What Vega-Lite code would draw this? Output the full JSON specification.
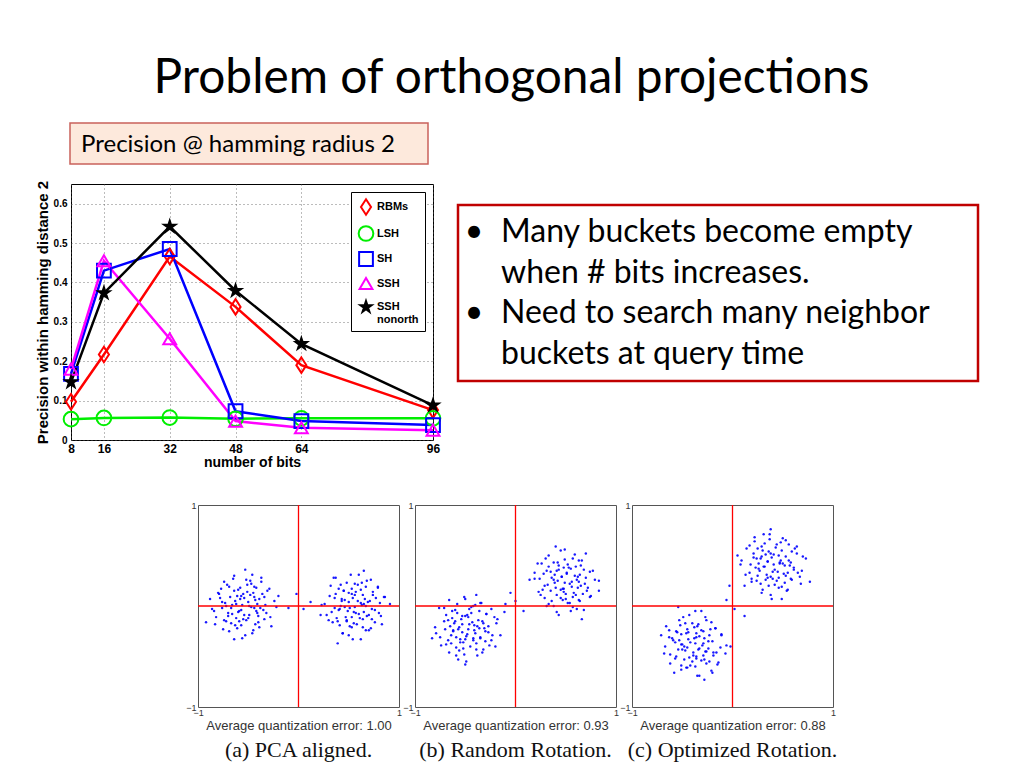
{
"$schema": "https://vega.github.io/schema/vega-lite/v6.json",
"padding": 0,
"background": "white",
"config": {
  "view": {"stroke": null},
  "font": "Liberation Sans",
  "legend": {"orient": "top-right", "offset": 8, "padding": 6, "rowPadding": 3, "strokeColor": "black", "fillColor": "white", "labelFont": "Liberation Sans", "labelFontSize": 11, "labelFontWeight": "bold", "labelColor": "black", "symbolStrokeWidth": 2, "labelOffset": 2, "cornerRadius": 0}
},
"resolve": {"scale": {"color": "independent", "stroke": "independent", "fill": "independent", "shape": "independent", "size": "independent"}},
"datasets": {
  "lines": [
    {"series":"RBMs","bits":8,"precision":0.097},{"series":"RBMs","bits":16,"precision":0.217},{"series":"RBMs","bits":32,"precision":0.466},{"series":"RBMs","bits":48,"precision":0.338},{"series":"RBMs","bits":64,"precision":0.19},{"series":"RBMs","bits":96,"precision":0.076},
    {"series":"LSH","bits":8,"precision":0.053},{"series":"LSH","bits":16,"precision":0.056},{"series":"LSH","bits":32,"precision":0.057},{"series":"LSH","bits":48,"precision":0.054},{"series":"LSH","bits":64,"precision":0.055},{"series":"LSH","bits":96,"precision":0.055},
    {"series":"SH","bits":8,"precision":0.168},{"series":"SH","bits":16,"precision":0.43},{"series":"SH","bits":32,"precision":0.485},{"series":"SH","bits":48,"precision":0.073},{"series":"SH","bits":64,"precision":0.048},{"series":"SH","bits":96,"precision":0.038},
    {"series":"SSH","bits":8,"precision":0.18},{"series":"SSH","bits":16,"precision":0.455},{"series":"SSH","bits":32,"precision":0.257},{"series":"SSH","bits":48,"precision":0.048},{"series":"SSH","bits":64,"precision":0.031},{"series":"SSH","bits":96,"precision":0.025},
    {"series":"SSH_nonorth","bits":8,"precision":0.147},{"series":"SSH_nonorth","bits":16,"precision":0.373},{"series":"SSH_nonorth","bits":32,"precision":0.542},{"series":"SSH_nonorth","bits":48,"precision":0.379},{"series":"SSH_nonorth","bits":64,"precision":0.244},{"series":"SSH_nonorth","bits":96,"precision":0.088}
  ],
  "sa": [
    {"x":-0.50,"y":-0.12},{"x":-0.73,"y":0.03},{"x":-0.44,"y":0.19},{"x":-0.57,"y":-0.04},{"x":-0.32,"y":-0.07},{"x":-0.64,"y":0.15},{"x":-0.54,"y":0.08},{"x":-0.82,"y":-0.11},{"x":-0.41,"y":0.02},{"x":-0.61,"y":-0.22},
    {"x":-0.47,"y":-0.01},{"x":-0.68,"y":0.09},{"x":-0.36,"y":0.12},{"x":-0.59,"y":-0.15},{"x":-0.24,"y":0.05},{"x":-0.76,"y":-0.02},{"x":-0.52,"y":0.26},{"x":-0.66,"y":-0.08},{"x":-0.43,"y":-0.18},{"x":-0.56,"y":0.01},
    {"x":-0.48,"y":0.11},{"x":-0.71,"y":0.21},{"x":-0.34,"y":-0.13},{"x":-0.63,"y":0.05},{"x":-0.53,"y":-0.29},{"x":-0.88,"y":0.07},{"x":-0.39,"y":0.07},{"x":-0.60,"y":-0.06},{"x":-0.46,"y":0.31},{"x":-0.67,"y":-0.17},
    {"x":-0.29,"y":0.17},{"x":-0.74,"y":-0.14},{"x":-0.51,"y":0.14},{"x":-0.62,"y":0.02},{"x":-0.42,"y":-0.05},{"x":-0.79,"y":0.12},{"x":-0.49,"y":-0.09},{"x":-0.69,"y":-0.25},{"x":-0.37,"y":0.24},{"x":-0.58,"y":0.18},
    {"x":-0.45,"y":-0.24},{"x":-0.84,"y":-0.05},{"x":-0.55,"y":-0.13},{"x":-0.33,"y":0.01},{"x":-0.65,"y":0.27},{"x":-0.40,"y":-0.10},{"x":-0.72,"y":0.00},{"x":-0.50,"y":0.04},{"x":-0.61,"y":0.10},{"x":-0.27,"y":-0.20},
    {"x":-0.77,"y":0.17},{"x":-0.44,"y":0.09},{"x":-0.57,"y":-0.19},{"x":-0.38,"y":-0.02},{"x":-0.70,"y":-0.07},{"x":-0.47,"y":0.22},{"x":-0.92,"y":-0.16},{"x":-0.20,"y":0.10},{"x":-0.64,"y":-0.33},{"x":-0.53,"y":0.36},
    {"x":-0.43,"y":0.06},{"x":-0.63,"y":-0.19},{"x":-0.35,"y":-0.04},{"x":-0.80,"y":0.13},{"x":-0.51,"y":0.21},{"x":-0.70,"y":-0.10},{"x":-0.46,"y":-0.27},{"x":-0.58,"y":0.07},{"x":-0.31,"y":0.15},{"x":-0.74,"y":0.24},
    {"x":-0.40,"y":-0.16},{"x":-0.66,"y":0.01},{"x":-0.54,"y":-0.09},{"x":-0.86,"y":-0.03},{"x":-0.37,"y":0.28},{"x":-0.60,"y":0.16},{"x":-0.28,"y":-0.11},{"x":-0.75,"y":-0.23},{"x":-0.49,"y":0.00},{"x":-0.69,"y":0.19},
    {"x":-0.45,"y":0.13},{"x":-0.56,"y":-0.32},{"x":-0.22,"y":-0.01},{"x":-0.78,"y":0.08},{"x":-0.52,"y":-0.14},{"x":-0.64,"y":0.30},{"x":-0.39,"y":-0.21},{"x":-0.72,"y":-0.15},{"x":-0.42,"y":0.18},{"x":-0.59,"y":-0.05},
    {"x":-0.34,"y":0.09},{"x":-0.83,"y":-0.18},{"x":-0.48,"y":0.25},{"x":-0.67,"y":-0.02},{"x":-0.55,"y":0.12},{"x":-0.62,"y":-0.12},{"x":-0.41,"y":-0.07},{"x":-0.76,"y":0.04},{"x":-0.44,"y":-0.02},{"x":-0.57,"y":0.10},
    {"x":0.43,"y":0.05},{"x":0.58,"y":-0.18},{"x":0.74,"y":0.11},{"x":0.51,"y":-0.02},{"x":0.48,"y":0.23},{"x":0.70,"y":-0.09},{"x":0.63,"y":0.01},{"x":0.44,"y":-0.27},{"x":0.57,"y":0.14},{"x":0.33,"y":-0.06},
    {"x":0.54,"y":0.08},{"x":0.64,"y":-0.13},{"x":0.67,"y":0.19},{"x":0.40,"y":-0.04},{"x":0.60,"y":0.31},{"x":0.53,"y":-0.21},{"x":0.81,"y":0.03},{"x":0.47,"y":-0.11},{"x":0.37,"y":0.12},{"x":0.56,"y":-0.01},
    {"x":0.66,"y":0.07},{"x":0.76,"y":-0.16},{"x":0.42,"y":0.21},{"x":0.60,"y":-0.08},{"x":0.26,"y":0.02},{"x":0.62,"y":-0.33},{"x":0.62,"y":0.16},{"x":0.49,"y":-0.05},{"x":0.86,"y":0.09},{"x":0.38,"y":-0.12},
    {"x":0.72,"y":0.26},{"x":0.41,"y":-0.19},{"x":0.69,"y":0.04},{"x":0.57,"y":-0.07},{"x":0.50,"y":0.13},{"x":0.67,"y":-0.24},{"x":0.46,"y":0.06},{"x":0.30,"y":-0.14},{"x":0.79,"y":0.18},{"x":0.73,"y":-0.03},
    {"x":0.31,"y":0.10},{"x":0.50,"y":-0.29},{"x":0.42,"y":0.00},{"x":0.56,"y":0.22},{"x":0.82,"y":-0.10},{"x":0.45,"y":0.15},{"x":0.55,"y":-0.17},{"x":0.59,"y":0.05},{"x":0.65,"y":-0.06},{"x":0.35,"y":0.28},
    {"x":0.72,"y":-0.22},{"x":0.64,"y":0.11},{"x":0.36,"y":-0.02},{"x":0.53,"y":0.17},{"x":0.48,"y":-0.15},{"x":0.77,"y":0.08},{"x":0.39,"y":-0.37},{"x":0.65,"y":0.35},{"x":0.22,"y":-0.09},{"x":0.91,"y":0.02},
    {"x":0.61,"y":-0.12},{"x":0.36,"y":0.08},{"x":0.51,"y":-0.20},{"x":0.68,"y":0.25},{"x":0.76,"y":-0.04},{"x":0.45,"y":0.15},{"x":0.28,"y":-0.09},{"x":0.62,"y":0.03},{"x":0.70,"y":-0.24},{"x":0.79,"y":0.19},
    {"x":0.39,"y":-0.15},{"x":0.56,"y":0.11},{"x":0.46,"y":-0.01},{"x":0.52,"y":0.31},{"x":0.83,"y":-0.18},{"x":0.71,"y":0.05},{"x":0.44,"y":-0.27},{"x":0.32,"y":0.20},{"x":0.55,"y":-0.06},{"x":0.74,"y":0.14},
    {"x":0.68,"y":-0.10},{"x":0.23,"y":0.01},{"x":0.54,"y":-0.33},{"x":0.63,"y":0.23},{"x":0.41,"y":-0.03},{"x":0.85,"y":0.09},{"x":0.34,"y":-0.16},{"x":0.40,"y":0.17},{"x":0.73,"y":-0.13},{"x":0.50,"y":0.04},
    {"x":0.64,"y":-0.21},{"x":0.37,"y":0.28},{"x":0.80,"y":-0.07},{"x":0.53,"y":0.12},{"x":0.67,"y":0.00},{"x":0.43,"y":0.07},{"x":0.48,"y":-0.14},{"x":0.59,"y":0.21},{"x":0.53,"y":-0.11},{"x":0.65,"y":0.02},
    {"x":-0.02,"y":0.12},{"x":0.05,"y":-0.03},{"x":-0.10,"y":-0.02},{"x":0.12,"y":0.04}
  ],
  "sb": [
    {"x":-0.53,"y":-0.10},{"x":-0.30,"y":-0.25},{"x":-0.59,"y":-0.41},{"x":-0.46,"y":-0.18},{"x":-0.71,"y":-0.15},{"x":-0.39,"y":-0.37},{"x":-0.49,"y":-0.30},{"x":-0.21,"y":-0.11},{"x":-0.62,"y":-0.24},{"x":-0.42,"y":0.00},
    {"x":-0.56,"y":-0.21},{"x":-0.35,"y":-0.31},{"x":-0.67,"y":-0.34},{"x":-0.44,"y":-0.07},{"x":-0.79,"y":-0.27},{"x":-0.27,"y":-0.20},{"x":-0.51,"y":-0.48},{"x":-0.37,"y":-0.14},{"x":-0.60,"y":-0.04},{"x":-0.47,"y":-0.23},
    {"x":-0.55,"y":-0.33},{"x":-0.32,"y":-0.43},{"x":-0.69,"y":-0.09},{"x":-0.40,"y":-0.27},{"x":-0.50,"y":0.07},{"x":-0.15,"y":-0.29},{"x":-0.64,"y":-0.29},{"x":-0.43,"y":-0.16},{"x":-0.57,"y":-0.53},{"x":-0.36,"y":-0.05},
    {"x":-0.74,"y":-0.39},{"x":-0.29,"y":-0.08},{"x":-0.52,"y":-0.36},{"x":-0.41,"y":-0.24},{"x":-0.61,"y":-0.17},{"x":-0.24,"y":-0.34},{"x":-0.54,"y":-0.13},{"x":-0.34,"y":0.03},{"x":-0.66,"y":-0.46},{"x":-0.45,"y":-0.40},
    {"x":-0.58,"y":0.02},{"x":-0.19,"y":-0.17},{"x":-0.48,"y":-0.09},{"x":-0.70,"y":-0.23},{"x":-0.38,"y":-0.49},{"x":-0.63,"y":-0.12},{"x":-0.31,"y":-0.22},{"x":-0.53,"y":-0.26},{"x":-0.42,"y":-0.32},{"x":-0.76,"y":-0.02},
    {"x":-0.26,"y":-0.39},{"x":-0.59,"y":-0.31},{"x":-0.46,"y":-0.03},{"x":-0.65,"y":-0.20},{"x":-0.33,"y":-0.15},{"x":-0.56,"y":-0.44},{"x":-0.11,"y":-0.06},{"x":-0.83,"y":-0.32},{"x":-0.39,"y":0.11},{"x":-0.50,"y":-0.58},
    {"x":-0.42,"y":-0.34},{"x":-0.67,"y":-0.14},{"x":-0.52,"y":-0.42},{"x":-0.35,"y":0.03},{"x":-0.27,"y":-0.26},{"x":-0.58,"y":-0.07},{"x":-0.75,"y":-0.31},{"x":-0.41,"y":-0.19},{"x":-0.33,"y":-0.46},{"x":-0.24,"y":-0.03},
    {"x":-0.64,"y":-0.37},{"x":-0.47,"y":-0.11},{"x":-0.57,"y":-0.23},{"x":-0.51,"y":0.09},{"x":-0.20,"y":-0.40},{"x":-0.32,"y":-0.17},{"x":-0.59,"y":-0.49},{"x":-0.71,"y":-0.02},{"x":-0.48,"y":-0.28},{"x":-0.29,"y":-0.08},
    {"x":-0.35,"y":-0.32},{"x":-0.80,"y":-0.21},{"x":-0.49,"y":-0.55},{"x":-0.40,"y":0.01},{"x":-0.62,"y":-0.25},{"x":-0.18,"y":-0.13},{"x":-0.69,"y":-0.38},{"x":-0.63,"y":-0.05},{"x":-0.30,"y":-0.35},{"x":-0.53,"y":-0.18},
    {"x":-0.39,"y":-0.43},{"x":-0.66,"y":0.06},{"x":-0.23,"y":-0.29},{"x":-0.50,"y":-0.10},{"x":-0.36,"y":-0.22},{"x":-0.60,"y":-0.15},{"x":-0.55,"y":-0.36},{"x":-0.44,"y":-0.01},{"x":-0.50,"y":-0.33},{"x":-0.38,"y":-0.20},
    {"x":0.62,"y":0.29},{"x":0.47,"y":0.06},{"x":0.31,"y":0.35},{"x":0.54,"y":0.22},{"x":0.57,"y":0.47},{"x":0.35,"y":0.15},{"x":0.42,"y":0.25},{"x":0.61,"y":-0.03},{"x":0.48,"y":0.38},{"x":0.72,"y":0.18},
    {"x":0.51,"y":0.32},{"x":0.41,"y":0.11},{"x":0.38,"y":0.43},{"x":0.65,"y":0.20},{"x":0.45,"y":0.55},{"x":0.52,"y":0.03},{"x":0.24,"y":0.27},{"x":0.58,"y":0.13},{"x":0.68,"y":0.36},{"x":0.49,"y":0.23},
    {"x":0.39,"y":0.31},{"x":0.29,"y":0.08},{"x":0.63,"y":0.45},{"x":0.45,"y":0.16},{"x":0.79,"y":0.26},{"x":0.43,"y":-0.09},{"x":0.43,"y":0.40},{"x":0.56,"y":0.19},{"x":0.19,"y":0.33},{"x":0.67,"y":0.12},
    {"x":0.33,"y":0.50},{"x":0.64,"y":0.05},{"x":0.36,"y":0.28},{"x":0.48,"y":0.17},{"x":0.55,"y":0.37},{"x":0.38,"y":0.00},{"x":0.59,"y":0.30},{"x":0.75,"y":0.10},{"x":0.26,"y":0.42},{"x":0.32,"y":0.21},
    {"x":0.74,"y":0.34},{"x":0.55,"y":-0.05},{"x":0.63,"y":0.24},{"x":0.49,"y":0.46},{"x":0.23,"y":0.14},{"x":0.60,"y":0.39},{"x":0.50,"y":0.07},{"x":0.46,"y":0.29},{"x":0.40,"y":0.18},{"x":0.70,"y":0.52},
    {"x":0.33,"y":0.02},{"x":0.41,"y":0.35},{"x":0.69,"y":0.22},{"x":0.52,"y":0.41},{"x":0.57,"y":0.09},{"x":0.28,"y":0.32},{"x":0.66,"y":-0.13},{"x":0.40,"y":0.59},{"x":0.83,"y":0.15},{"x":0.14,"y":0.26},
    {"x":0.62,"y":0.18},{"x":0.42,"y":0.43},{"x":0.70,"y":0.28},{"x":0.25,"y":0.11},{"x":0.54,"y":0.03},{"x":0.35,"y":0.34},{"x":0.59,"y":0.51},{"x":0.47,"y":0.17},{"x":0.74,"y":0.09},{"x":0.31,"y":0.00},
    {"x":0.65,"y":0.40},{"x":0.39,"y":0.23},{"x":0.51,"y":0.33},{"x":0.19,"y":0.27},{"x":0.68,"y":-0.04},{"x":0.45,"y":0.08},{"x":0.77,"y":0.35},{"x":0.30,"y":0.47},{"x":0.56,"y":0.24},{"x":0.36,"y":0.05},
    {"x":0.60,"y":0.11},{"x":0.49,"y":0.56},{"x":0.83,"y":0.25},{"x":0.27,"y":0.16},{"x":0.53,"y":0.38},{"x":0.41,"y":-0.06},{"x":0.66,"y":0.45},{"x":0.33,"y":0.39},{"x":0.63,"y":0.06},{"x":0.46,"y":0.29},
    {"x":0.71,"y":0.15},{"x":0.22,"y":0.42},{"x":0.57,"y":-0.01},{"x":0.38,"y":0.26},{"x":0.50,"y":0.12},{"x":0.43,"y":0.36},{"x":0.64,"y":0.31},{"x":0.29,"y":0.20},{"x":0.61,"y":0.26},{"x":0.48,"y":0.14},
    {"x":0.00,"y":0.05},{"x":-0.10,"y":0.02},{"x":0.08,"y":-0.05},{"x":-0.05,"y":0.13}
  ],
  "sc": [
    {"x":-0.50,"y":-0.43},{"x":-0.35,"y":-0.20},{"x":-0.19,"y":-0.49},{"x":-0.42,"y":-0.36},{"x":-0.45,"y":-0.61},{"x":-0.23,"y":-0.29},{"x":-0.30,"y":-0.39},{"x":-0.49,"y":-0.11},{"x":-0.36,"y":-0.52},{"x":-0.60,"y":-0.32},
    {"x":-0.39,"y":-0.46},{"x":-0.29,"y":-0.25},{"x":-0.26,"y":-0.57},{"x":-0.53,"y":-0.34},{"x":-0.33,"y":-0.69},{"x":-0.40,"y":-0.17},{"x":-0.12,"y":-0.41},{"x":-0.46,"y":-0.27},{"x":-0.56,"y":-0.50},{"x":-0.37,"y":-0.37},
    {"x":-0.27,"y":-0.45},{"x":-0.17,"y":-0.22},{"x":-0.51,"y":-0.59},{"x":-0.33,"y":-0.30},{"x":-0.67,"y":-0.40},{"x":-0.31,"y":-0.05},{"x":-0.31,"y":-0.54},{"x":-0.44,"y":-0.33},{"x":-0.07,"y":-0.47},{"x":-0.55,"y":-0.26},
    {"x":-0.21,"y":-0.64},{"x":-0.52,"y":-0.19},{"x":-0.24,"y":-0.42},{"x":-0.36,"y":-0.31},{"x":-0.43,"y":-0.51},{"x":-0.26,"y":-0.14},{"x":-0.47,"y":-0.44},{"x":-0.63,"y":-0.24},{"x":-0.14,"y":-0.56},{"x":-0.20,"y":-0.35},
    {"x":-0.62,"y":-0.48},{"x":-0.43,"y":-0.09},{"x":-0.51,"y":-0.38},{"x":-0.37,"y":-0.60},{"x":-0.11,"y":-0.28},{"x":-0.48,"y":-0.53},{"x":-0.38,"y":-0.21},{"x":-0.34,"y":-0.43},{"x":-0.28,"y":-0.32},{"x":-0.58,"y":-0.66},
    {"x":-0.21,"y":-0.16},{"x":-0.29,"y":-0.49},{"x":-0.57,"y":-0.36},{"x":-0.40,"y":-0.55},{"x":-0.45,"y":-0.23},{"x":-0.16,"y":-0.46},{"x":-0.54,"y":-0.01},{"x":-0.28,"y":-0.73},{"x":-0.71,"y":-0.29},{"x":-0.02,"y":-0.40},
    {"x":-0.44,"y":-0.26},{"x":-0.19,"y":-0.46},{"x":-0.34,"y":-0.18},{"x":-0.51,"y":-0.63},{"x":-0.59,"y":-0.34},{"x":-0.28,"y":-0.53},{"x":-0.11,"y":-0.29},{"x":-0.45,"y":-0.41},{"x":-0.53,"y":-0.14},{"x":-0.62,"y":-0.57},
    {"x":-0.22,"y":-0.23},{"x":-0.39,"y":-0.49},{"x":-0.29,"y":-0.37},{"x":-0.35,"y":-0.69},{"x":-0.66,"y":-0.20},{"x":-0.54,"y":-0.43},{"x":-0.27,"y":-0.11},{"x":-0.15,"y":-0.58},{"x":-0.38,"y":-0.32},{"x":-0.57,"y":-0.52},
    {"x":-0.51,"y":-0.28},{"x":-0.06,"y":-0.39},{"x":-0.37,"y":-0.05},{"x":-0.46,"y":-0.61},{"x":-0.24,"y":-0.35},{"x":-0.68,"y":-0.47},{"x":-0.17,"y":-0.22},{"x":-0.23,"y":-0.55},{"x":-0.56,"y":-0.25},{"x":-0.33,"y":-0.42},
    {"x":-0.47,"y":-0.17},{"x":-0.20,"y":-0.66},{"x":-0.63,"y":-0.31},{"x":-0.36,"y":-0.50},{"x":-0.50,"y":-0.38},{"x":-0.26,"y":-0.45},{"x":-0.31,"y":-0.24},{"x":-0.42,"y":-0.59},{"x":-0.36,"y":-0.27},{"x":-0.48,"y":-0.40},
    {"x":0.35,"y":0.28},{"x":0.58,"y":0.43},{"x":0.29,"y":0.59},{"x":0.42,"y":0.36},{"x":0.17,"y":0.33},{"x":0.49,"y":0.55},{"x":0.39,"y":0.48},{"x":0.67,"y":0.29},{"x":0.26,"y":0.42},{"x":0.46,"y":0.18},
    {"x":0.32,"y":0.39},{"x":0.53,"y":0.49},{"x":0.21,"y":0.52},{"x":0.44,"y":0.25},{"x":0.09,"y":0.45},{"x":0.61,"y":0.38},{"x":0.37,"y":0.66},{"x":0.51,"y":0.32},{"x":0.28,"y":0.22},{"x":0.41,"y":0.41},
    {"x":0.33,"y":0.51},{"x":0.56,"y":0.61},{"x":0.19,"y":0.27},{"x":0.48,"y":0.45},{"x":0.38,"y":0.11},{"x":0.73,"y":0.47},{"x":0.24,"y":0.47},{"x":0.45,"y":0.34},{"x":0.31,"y":0.71},{"x":0.52,"y":0.23},
    {"x":0.14,"y":0.57},{"x":0.59,"y":0.26},{"x":0.36,"y":0.54},{"x":0.47,"y":0.42},{"x":0.27,"y":0.35},{"x":0.64,"y":0.52},{"x":0.34,"y":0.31},{"x":0.54,"y":0.15},{"x":0.22,"y":0.64},{"x":0.43,"y":0.58},
    {"x":0.30,"y":0.16},{"x":0.69,"y":0.35},{"x":0.40,"y":0.27},{"x":0.18,"y":0.41},{"x":0.50,"y":0.67},{"x":0.25,"y":0.30},{"x":0.57,"y":0.40},{"x":0.35,"y":0.44},{"x":0.46,"y":0.50},{"x":0.12,"y":0.20},
    {"x":0.62,"y":0.57},{"x":0.29,"y":0.49},{"x":0.42,"y":0.21},{"x":0.23,"y":0.38},{"x":0.55,"y":0.33},{"x":0.32,"y":0.62},{"x":0.77,"y":0.24},{"x":0.05,"y":0.50},{"x":0.49,"y":0.07},{"x":0.38,"y":0.76},
    {"x":0.46,"y":0.28},{"x":0.21,"y":0.48},{"x":0.36,"y":0.20},{"x":0.53,"y":0.65},{"x":0.61,"y":0.36},{"x":0.30,"y":0.55},{"x":0.13,"y":0.31},{"x":0.47,"y":0.43},{"x":0.55,"y":0.16},{"x":0.64,"y":0.59},
    {"x":0.24,"y":0.25},{"x":0.41,"y":0.51},{"x":0.31,"y":0.39},{"x":0.37,"y":0.71},{"x":0.68,"y":0.22},{"x":0.56,"y":0.45},{"x":0.29,"y":0.13},{"x":0.17,"y":0.60},{"x":0.40,"y":0.34},{"x":0.59,"y":0.54},
    {"x":0.53,"y":0.30},{"x":0.08,"y":0.41},{"x":0.39,"y":0.07},{"x":0.48,"y":0.63},{"x":0.26,"y":0.37},{"x":0.70,"y":0.49},{"x":0.19,"y":0.24},{"x":0.25,"y":0.57},{"x":0.58,"y":0.27},{"x":0.35,"y":0.44},
    {"x":0.49,"y":0.19},{"x":0.22,"y":0.68},{"x":0.65,"y":0.33},{"x":0.38,"y":0.52},{"x":0.52,"y":0.40},{"x":0.28,"y":0.47},{"x":0.33,"y":0.26},{"x":0.44,"y":0.61},{"x":0.38,"y":0.29},{"x":0.50,"y":0.42},
    {"x":-0.03,"y":0.20},{"x":0.02,"y":-0.03},{"x":0.12,"y":-0.10},{"x":-0.06,"y":0.06}
  ]
},
"bounds": "flush",
"spacing": 0,
"vconcat": [
  {"width": 1023, "height": 110, "view": {"fill": "white"}, "data": {"values": [{}]}, "mark": {"type": "text", "text": "Problem of orthogonal projections", "font": "Lato", "fontSize": 47.8, "align": "center", "baseline": "top", "color": "black"}},
  {"width": 1, "height": 13, "data": {"values": [{}]}, "mark": {"type": "rect", "opacity": 0}},
  {"hconcat": [
    {"width": 70, "height": 1, "data": {"values": [{}]}, "mark": {"type": "rect", "opacity": 0}},
    {"width": 358, "height": 41, "view": {"fill": "#fde9dc", "stroke": "#c9625b", "strokeWidth": 1.5}, "data": {"values": [{}]}, "mark": {"type": "text", "text": "Precision @ hamming radius 2", "font": "Lato", "fontSize": 24, "align": "center", "baseline": "alphabetic", "dx": -11, "dy": 8.5, "color": "black"}}
  ], "spacing": 0, "bounds": "flush"},
  {"width": 1, "height": 61, "data": {"values": [{}]}, "mark": {"type": "rect", "opacity": 0}},
  {"hconcat": [
    {"width": 71, "height": 1, "data": {"values": [{}]}, "mark": {"type": "rect", "opacity": 0}},
    {
      "width": 362, "height": 256,
      "view": {"stroke": "black", "strokeWidth": 1},
      "data": {"name": "lines"},
      "encoding": {
        "x": {"field": "bits", "type": "quantitative", "scale": {"domain": [8, 96], "nice": false, "zero": false},
              "axis": {"values": [8, 16, 32, 48, 64, 96], "title": "number of bits", "labelFontSize": 12, "labelFontWeight": "bold", "labelColor": "black", "labelPadding": 3, "labelFlush": false, "ticks": false, "domain": false, "grid": true, "gridColor": "#555", "gridDash": [1, 3], "gridWidth": 0.8, "titleFontSize": 14, "titleFontWeight": "bold", "titleColor": "black", "titlePadding": 1}},
        "y": {"field": "precision", "type": "quantitative", "scale": {"domain": [0, 0.65], "nice": false},
              "axis": {"values": [0, 0.1, 0.2, 0.3, 0.4, 0.5, 0.6], "labelExpr": "datum.value == 0 ? '0' : format(datum.value, '.1f')", "title": "Precision within hamming distance 2", "labelFontSize": 10, "labelFontWeight": "bold", "labelColor": "black", "labelPadding": 4, "ticks": false, "domain": false, "grid": true, "gridColor": "#555", "gridDash": [1, 3], "gridWidth": 0.8, "titleFontSize": 15, "titleFontWeight": "bold", "titleColor": "black", "titlePadding": 3}}
      },
      "layer": [
        {"mark": {"type": "line", "strokeWidth": 2.5},
         "encoding": {"color": {"field": "series", "type": "nominal", "scale": {"domain": ["RBMs", "LSH", "SH", "SSH", "SSH_nonorth", "none"], "range": ["#ff0000", "#00ee00", "#0000ff", "#ff00ff", "#000000", "#888888"]}, "legend": null}}},
        {"mark": {"type": "point", "filled": false, "strokeWidth": 2, "opacity": 1},
         "encoding": {
           "stroke": {"field": "series", "type": "nominal", "scale": {"domain": ["RBMs", "LSH", "SH", "SSH", "SSH_nonorth"], "range": ["#ff0000", "#00ee00", "#0000ff", "#ff00ff", "#000000"]},
                      "legend": {"title": null, "labelExpr": "datum.label == 'SSH_nonorth' ? ['SSH', '    nonorth'] : datum.label"}},
           "fill": {"field": "series", "type": "nominal", "scale": {"domain": ["RBMs", "LSH", "SH", "SSH", "SSH_nonorth"], "range": ["transparent", "transparent", "transparent", "transparent", "#000000"]}},
           "shape": {"field": "series", "type": "nominal", "scale": {"domain": ["RBMs", "LSH", "SH", "SSH", "SSH_nonorth"], "range": ["M0,-1L0.65,0L0,1L-0.65,0Z", "circle", "square", "triangle-up", "M0,-1L0.225,-0.309L0.951,-0.309L0.363,0.118L0.588,0.809L0,0.382L-0.588,0.809L-0.363,0.118L-0.951,-0.309L-0.225,-0.309Z"]}},
           "size": {"field": "series", "type": "nominal", "scale": {"domain": ["RBMs", "LSH", "SH", "SSH", "SSH_nonorth"], "range": [240, 140, 115, 150, 300]}}
         }}
      ]
    }
  ], "spacing": 0, "bounds": "flush",
  "resolve": {"scale": {"color": "independent", "stroke": "independent", "fill": "independent", "shape": "independent", "size": "independent"}}},
  {"width": 1, "height": 21, "data": {"values": [{}]}, "mark": {"type": "rect", "opacity": 0}},
  {"hconcat": [
    {"width": 458, "height": 1, "data": {"values": [{}]}, "mark": {"type": "rect", "opacity": 0}},
    {"width": 520, "height": 176, "view": {"fill": "white", "stroke": "#c00000", "strokeWidth": 2.5}, "data": {"values": [{}]},
     "layer": [
       {"mark": {"type": "text", "text": ["Many buckets become empty", "when # bits increases.", "Need to search many neighbor", "buckets at query time"], "font": "Lato", "fontSize": 32, "lineHeight": 40.5, "align": "left", "baseline": "top", "dx": -217, "dy": -76, "color": "black"}},
       {"mark": {"type": "text", "text": "•", "font": "Lato", "fontSize": 32, "align": "center", "baseline": "top", "dx": -244, "dy": -76, "color": "black"}},
       {"mark": {"type": "text", "text": "•", "font": "Lato", "fontSize": 32, "align": "center", "baseline": "top", "dx": -244, "dy": 5, "color": "black"}}
     ]}
  ], "spacing": 0, "bounds": "flush"},
  {"width": 1, "height": 300, "data": {"values": [{}]}, "mark": {"type": "rect", "opacity": 0}},
  {"hconcat": [
    {"width": 182, "height": 1, "data": {"values": [{}]}, "mark": {"type": "rect", "opacity": 0}},
    {
      "width": 201, "height": 202, "view": {"stroke": "#555", "strokeWidth": 1},
      "title": {"text": "(a) PCA aligned.", "orient": "bottom", "font": "Liberation Serif", "fontSize": 22, "fontWeight": "normal", "color": "#111", "baseline": "top", "offset": 8, "anchor": "middle"},
      "layer": [
        {"data": {"name": "sa"}, "mark": {"type": "circle", "size": 6, "color": "#0000ff", "opacity": 0.9},
         "encoding": {
           "x": {"field": "x", "type": "quantitative", "scale": {"domain": [-1, 1], "nice": false}, "axis": {"values": [-1, 0, 1], "format": "d", "title": "Average quantization error: 1.00", "labelFontSize": 9, "labelColor": "#333", "labelPadding": 1, "labelFlush": false, "ticks": false, "domain": false, "grid": false, "titleFontSize": 13, "titleFontWeight": "normal", "titleColor": "#333", "titlePadding": 2}},
           "y": {"field": "y", "type": "quantitative", "scale": {"domain": [-1, 1], "nice": false}, "axis": {"values": [-1, 0, 1], "format": "d", "title": null, "labelFontSize": 9, "labelColor": "#333", "labelPadding": 2, "ticks": false, "domain": false, "grid": false}}
         }},
        {"data": {"values": [{}]}, "mark": {"type": "rule", "color": "#ff0000", "strokeWidth": 1.3}, "encoding": {"x": {"datum": 0}}},
        {"data": {"values": [{}]}, "mark": {"type": "rule", "color": "#ff0000", "strokeWidth": 1.3}, "encoding": {"y": {"datum": 0}}}
      ]
    },
    {
      "width": 201, "height": 202, "view": {"stroke": "#555", "strokeWidth": 1},
      "title": {"text": "(b) Random Rotation.", "orient": "bottom", "font": "Liberation Serif", "fontSize": 22, "fontWeight": "normal", "color": "#111", "baseline": "top", "offset": 8, "anchor": "middle"},
      "layer": [
        {"data": {"name": "sb"}, "mark": {"type": "circle", "size": 6, "color": "#0000ff", "opacity": 0.9},
         "encoding": {
           "x": {"field": "x", "type": "quantitative", "scale": {"domain": [-1, 1], "nice": false}, "axis": {"values": [-1, 0, 1], "format": "d", "title": "Average quantization error: 0.93", "labelFontSize": 9, "labelColor": "#333", "labelPadding": 1, "labelFlush": false, "ticks": false, "domain": false, "grid": false, "titleFontSize": 13, "titleFontWeight": "normal", "titleColor": "#333", "titlePadding": 2}},
           "y": {"field": "y", "type": "quantitative", "scale": {"domain": [-1, 1], "nice": false}, "axis": {"values": [-1, 0, 1], "format": "d", "title": null, "labelFontSize": 9, "labelColor": "#333", "labelPadding": 2, "ticks": false, "domain": false, "grid": false}}
         }},
        {"data": {"values": [{}]}, "mark": {"type": "rule", "color": "#ff0000", "strokeWidth": 1.3}, "encoding": {"x": {"datum": 0}}},
        {"data": {"values": [{}]}, "mark": {"type": "rule", "color": "#ff0000", "strokeWidth": 1.3}, "encoding": {"y": {"datum": 0}}}
      ]
    },
    {
      "width": 201, "height": 202, "view": {"stroke": "#555", "strokeWidth": 1},
      "title": {"text": "(c) Optimized Rotation.", "orient": "bottom", "font": "Liberation Serif", "fontSize": 22, "fontWeight": "normal", "color": "#111", "baseline": "top", "offset": 8, "anchor": "middle"},
      "layer": [
        {"data": {"name": "sc"}, "mark": {"type": "circle", "size": 6, "color": "#0000ff", "opacity": 0.9},
         "encoding": {
           "x": {"field": "x", "type": "quantitative", "scale": {"domain": [-1, 1], "nice": false}, "axis": {"values": [-1, 0, 1], "format": "d", "title": "Average quantization error: 0.88", "labelFontSize": 9, "labelColor": "#333", "labelPadding": 1, "labelFlush": false, "ticks": false, "domain": false, "grid": false, "titleFontSize": 13, "titleFontWeight": "normal", "titleColor": "#333", "titlePadding": 2}},
           "y": {"field": "y", "type": "quantitative", "scale": {"domain": [-1, 1], "nice": false}, "axis": {"values": [-1, 0, 1], "format": "d", "title": null, "labelFontSize": 9, "labelColor": "#333", "labelPadding": 2, "ticks": false, "domain": false, "grid": false}}
         }},
        {"data": {"values": [{}]}, "mark": {"type": "rule", "color": "#ff0000", "strokeWidth": 1.3}, "encoding": {"x": {"datum": 0}}},
        {"data": {"values": [{}]}, "mark": {"type": "rule", "color": "#ff0000", "strokeWidth": 1.3}, "encoding": {"y": {"datum": 0}}}
      ]
    }
  ], "spacing": 16, "bounds": "flush"}
]
}
